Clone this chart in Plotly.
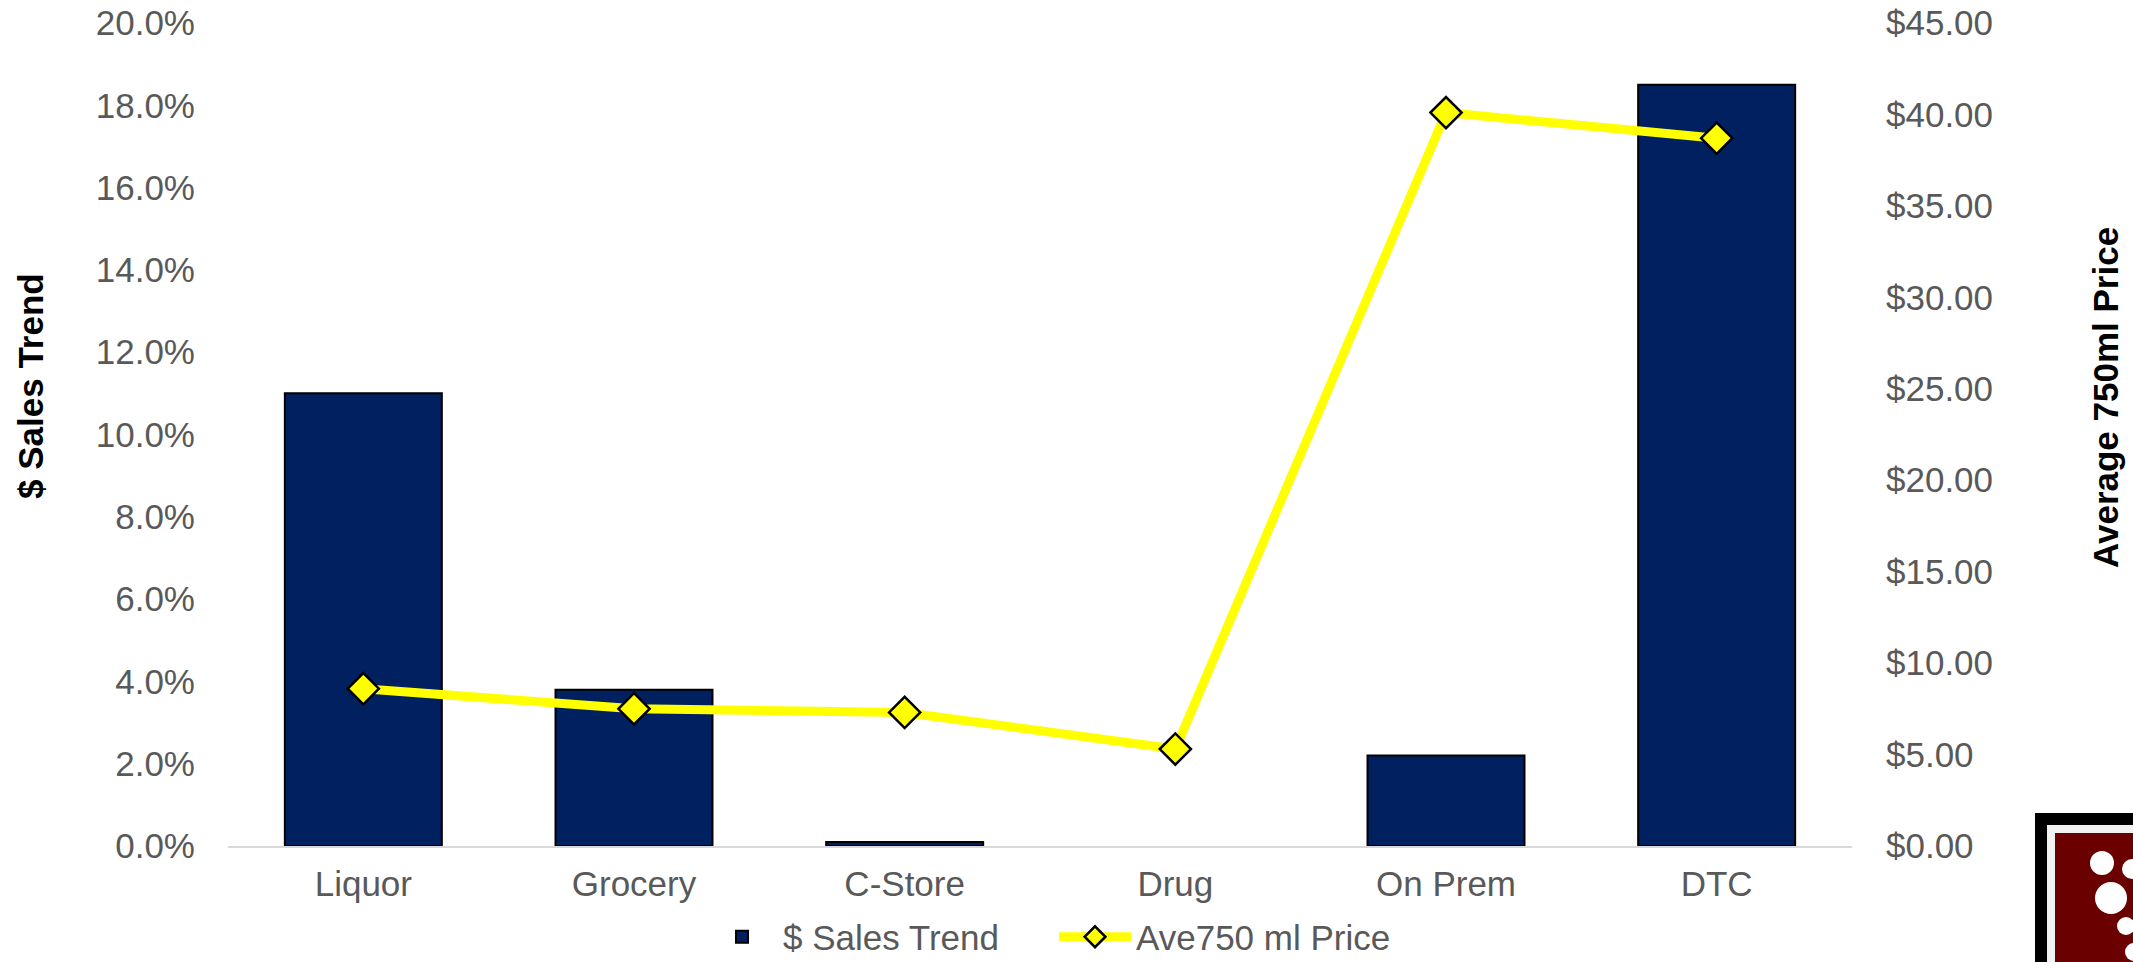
import plotly.graph_objects as go

categories = ["Liquor", "Grocery", "C-Store", "Drug", "On Prem", "DTC"]
sales_trend = [0.110, 0.038, 0.001, None, 0.022, 0.185]
ave_price = [8.60, 7.50, 7.30, 5.30, 40.10, 38.70]

W, H = 2133, 962
L, R, T, B = 228, 1852, 23, 846
PW, PH = R - L, B - T

def px(x):
    return (x - L) / PW

def py(y):
    return (B - y) / PH

GRAY = "#595959"
FONT = "Liberation Sans, Arial, sans-serif"

fig = go.Figure()
fig.add_trace(go.Bar(
    x=categories, y=sales_trend, name="$ Sales Trend",
    marker=dict(color="#002060", line=dict(color="black", width=2)),
    width=0.58,
))
fig.add_trace(go.Scatter(
    x=categories, y=ave_price, name="Ave750 ml Price", yaxis="y2",
    mode="lines+markers",
    line=dict(color="#FFFF00", width=9),
    marker=dict(symbol="diamond", size=24, color="#FFFF00",
                line=dict(color="black", width=2.5)),
))

# logo (decoration)
shapes = [
    dict(type="rect", xref="paper", yref="paper", x0=px(2035), x1=px(2140), y0=py(970), y1=py(813),
         fillcolor="black", line=dict(width=0), layer="above"),
    dict(type="rect", xref="paper", yref="paper", x0=px(2047), x1=px(2140), y0=py(970), y1=py(825),
         fillcolor="#F2F2F2", line=dict(width=0), layer="above"),
    dict(type="rect", xref="paper", yref="paper", x0=px(2055), x1=px(2140), y0=py(970), y1=py(833),
         fillcolor="#6B0000", line=dict(width=0), layer="above"),
]
for cx, cy, r in [(2102, 863, 12), (2111, 898, 16), (2132, 869, 10), (2126, 926, 9), (2134, 952, 9)]:
    shapes.append(dict(type="circle", xref="paper", yref="paper",
                       x0=px(cx - r), x1=px(cx + r), y0=py(cy + r), y1=py(cy - r),
                       fillcolor="white", line=dict(width=0), layer="above"))

fig.update_layout(
    width=W, height=H,
    margin=dict(l=L, r=W - R, t=T, b=H - B, autoexpand=False),
    paper_bgcolor="white", plot_bgcolor="white",
    font=dict(family=FONT, size=35, color=GRAY),
    showlegend=True,
    legend=dict(orientation="h", x=px(1054), xanchor="center", y=py(937), yanchor="middle",
                font=dict(size=35, color=GRAY), itemwidth=72, entrywidth=266,
                tracegroupgap=0, bgcolor="rgba(0,0,0,0)"),
    xaxis=dict(showgrid=False, showline=True, linecolor="#D9D9D9", linewidth=2,
               ticks="", ticklabelstandoff=6, tickfont=dict(size=35, color=GRAY)),
    yaxis=dict(range=[0, 0.2], dtick=0.02, tickformat=".1%", showgrid=False,
               zeroline=False, showline=False, ticks="", ticklabelstandoff=32,
               tickfont=dict(size=35, color=GRAY)),
    yaxis2=dict(range=[0, 45], dtick=5, tickformat="$.2f", overlaying="y", side="right",
                showgrid=False, zeroline=False, showline=False, ticks="", ticklabelstandoff=33,
                tickfont=dict(size=35, color=GRAY)),
    shapes=shapes,
    annotations=[
        dict(text="<b>$ Sales Trend</b>", xref="paper", yref="paper", x=px(30), y=py(386),
             xanchor="center", yanchor="middle",
             textangle=-90, showarrow=False, font=dict(size=35, color="black", family=FONT)),
        dict(text="<b>Average 750ml Price</b>", xref="paper", yref="paper", x=px(2105), y=py(398),
             xanchor="center", yanchor="middle",
             textangle=-90, showarrow=False, font=dict(size=35, color="black", family=FONT)),
    ],
)

fig.write_html("out.html", config={"displayModeBar": False})

with open("out.html", "r", encoding="utf-8") as f:
    html = f.read()
html = html.replace("<body>", '<body style="margin:0;overflow:hidden">', 1)
with open("out.html", "w", encoding="utf-8") as f:
    f.write(html)
